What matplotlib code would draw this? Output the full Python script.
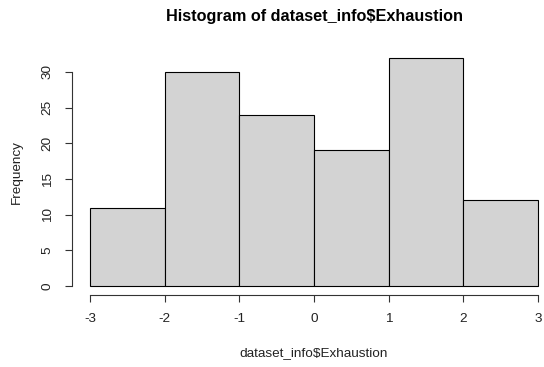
import numpy as np
import matplotlib
matplotlib.use("Agg")
import matplotlib.pyplot as plt

plt.rcParams["font.family"] = ["Liberation Sans", "DejaVu Sans"]

# Histogram bins and counts
bin_edges = [-3, -2, -1, 0, 1, 2, 3]
counts = [11, 30, 24, 19, 32, 12]
x_ticks = [-3, -2, -1, 0, 1, 2, 3]
y_ticks = [0, 5, 10, 15, 20, 25, 30]

W, H = 544, 367
fig = plt.figure(figsize=(W / 100, H / 100), dpi=100)

# plot region in pixels (R-style, axes extended by 4% of data range)
left, right, top, bottom = 72, 556, 48.6, 295.1
ax = fig.add_axes([left / W, 1 - bottom / H, (right - left) / W, (bottom - top) / H])

edges = np.array(bin_edges, dtype=float)
ax.bar(edges[:-1], counts, width=np.diff(edges), align="edge",
       color="#D3D3D3", edgecolor="black", linewidth=0.8)

span = edges[-1] - edges[0]
ax.set_xlim(edges[0] - 0.04 * span, edges[-1] + 0.04 * span)
ymax = max(counts)
ax.set_ylim(-0.04 * ymax, ymax * 1.04)

for s in ["top", "right"]:
    ax.spines[s].set_visible(False)
ax.spines["left"].set_bounds(y_ticks[0], y_ticks[-1])
ax.spines["bottom"].set_bounds(x_ticks[0], x_ticks[-1])
for s in ["left", "bottom"]:
    ax.spines[s].set_linewidth(0.8)
    ax.spines[s].set_color("#333333")

ax.set_xticks(x_ticks)
ax.set_xticklabels([str(v) for v in x_ticks])
ax.set_yticks(y_ticks)
ax.set_yticklabels([str(v) for v in y_ticks], rotation=90, va="center")
ax.tick_params(direction="out", length=5.2, width=0.8, colors="#333333",
               labelsize=9.7, labelcolor="#222222")
ax.tick_params(axis="x", pad=8)
ax.tick_params(axis="y", pad=8)

fig.text(17 / W, 1 - 172 / H, "Frequency", rotation=90, ha="center", va="center",
         fontsize=9.7, color="#222222")
fig.text(314 / W, 1 - 353 / H, "dataset_info$Exhaustion", ha="center", va="center",
         fontsize=9.7, color="#222222")
fig.text(314 / W, 1 - 16 / H, "Histogram of dataset_info$Exhaustion", ha="center",
         va="center", fontsize=11.7, fontweight="bold", color="black")

fig.savefig("out.png", dpi=100)
